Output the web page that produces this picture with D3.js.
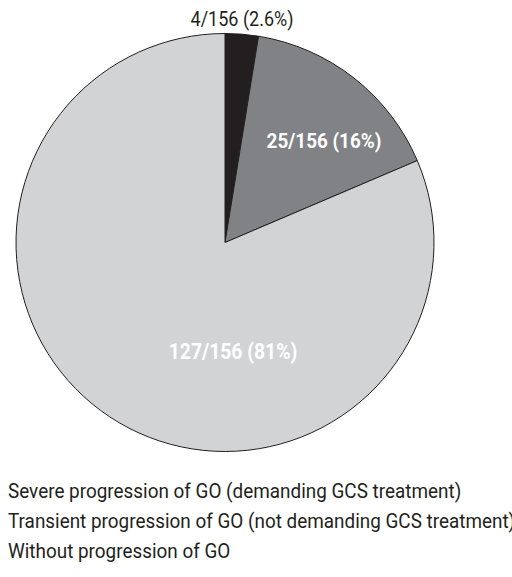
<!DOCTYPE html>
<html>
<head>
<meta charset="utf-8">
<script src="https://cdn.jsdelivr.net/npm/d3@7"></script>
<style>
  body { margin: 0; background: #fff; }
  svg { display: block; }
  text { font-family: Roboto, "Liberation Sans", sans-serif; }
</style>
</head>
<body>
<div id="chart"></div>
<script>
// slice data, clockwise from 12 o'clock
var categories = [
    "Severe progression of GO (demanding GCS treatment)",
    "Transient progression of GO (not demanding GCS treatment)",
    "Without progression of GO"
]
var counts = [4, 25, 127]
var total = 156
var sliceLabels = ["4/156 (2.6%)", "25/156 (16%)", "127/156 (81%)"]
var colors = ["#231f20", "#808285", "#d1d3d4"]

// the source font is a condensed grotesque, squeeze Roboto horizontally
var squeeze = 0.9

function drawPie() {
    var width = 512, height = 577
    var cx = 225, cy = 242.5, radius = 209

    var svg = d3.select("#chart")
        .append("svg")
        .attr("width", width)
        .attr("height", height)

    var g = svg.append("g")
        .attr("transform", "translate(" + cx + "," + cy + ")")

    var pie = d3.pie()
        .value(function (d) { return d })
        .sort(null)
    var arcs = pie(counts)

    var arc = d3.arc().innerRadius(0).outerRadius(radius)

    g.selectAll("path")
        .data(arcs)
        .enter()
        .append("path")
        .attr("d", arc)
        .attr("fill", function (d, i) { return colors[i] })
        .attr("stroke", "#231f20")
        .attr("stroke-width", 1)
        .attr("stroke-linejoin", "round")

    // labels: the small one sits above the pie, the others inside in white
    var labelPos = [
        [17, -217],
        [99, -95],
        [8, 116]
    ]
    var labelSize = [20, 21, 21.5]
    g.selectAll("text.lbl")
        .data(arcs)
        .enter()
        .append("text")
        .attr("class", "lbl")
        .attr("transform", function (d, i) {
            return "translate(" + labelPos[i][0] + "," + labelPos[i][1] + ") scale(" + squeeze + ",1)"
        })
        .attr("text-anchor", "middle")
        .attr("font-size", function (d, i) { return labelSize[i] })
        .attr("font-weight", function (d, i) { return i == 0 ? "normal" : "bold" })
        .attr("fill", function (d, i) { return i == 0 ? "#231f20" : "#ffffff" })
        .text(function (d, i) { return sliceLabels[i] })

    // legend text (markers fall outside the frame)
    svg.selectAll("text.leg")
        .data(categories)
        .enter()
        .append("text")
        .attr("class", "leg")
        .attr("transform", function (d, i) {
            return "translate(8," + (498 + i * 30) + ") scale(" + squeeze + ",1)"
        })
        .attr("font-size", 21)
        .attr("fill", "#231f20")
        .text(function (d) { return d })
}

drawPie()
</script>
</body>
</html>
